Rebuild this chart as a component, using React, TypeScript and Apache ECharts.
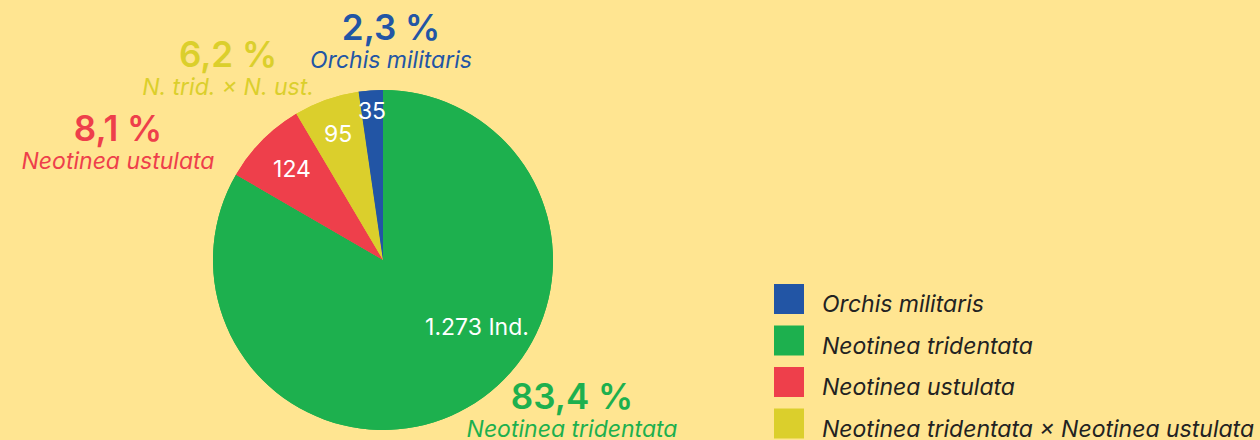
import React, { useEffect, useRef } from "react";
import * as echarts from "echarts";

// Data (clockwise from 12 o'clock)
const species = [
  "Neotinea tridentata",
  "Neotinea ustulata",
  "Neotinea tridentata × Neotinea ustulata",
  "Orchis militaris",
];
const shortNames = [
  "Neotinea tridentata",
  "Neotinea ustulata",
  "N. trid. × N. ust.",
  "Orchis militaris",
];
const counts = [1273, 124, 95, 35];
const colors = ["#1DB04E", "#EE3F4B", "#DBCF2C", "#2255A5"];
const legendOrder = [
  "Orchis militaris",
  "Neotinea tridentata",
  "Neotinea ustulata",
  "Neotinea tridentata × Neotinea ustulata",
];

// label placement (pixels)
const innerLabelPos = [
  [477, 327],
  [292, 169],
  [338, 134],
  [372, 111],
];
const outerLabelPos = [
  [572, 377],
  [118, 109],
  [228, 35],
  [391, 8],
];

const total = counts.reduce((a, b) => a + b, 0);
const fmtThousands = (v: number) =>
  String(v).replace(/\B(?=(\d{3})+(?!\d))/g, ".");
const fmtPct = (v: number) => ((v / total) * 100).toFixed(1).replace(".", ",") + " %";

const FONT = "Inter, 'Noto Sans', sans-serif";

export default function App() {
  const ref = useRef<HTMLDivElement>(null);
  useEffect(() => {
    if (!ref.current) return;
    const chart = echarts.init(ref.current, undefined, { renderer: "svg" });
    const data = species.map((name, i) => ({
      name,
      value: counts[i],
      itemStyle: { color: colors[i] },
    }));
    chart.setOption({
      animation: false,
      backgroundColor: "#FFE591",
      textStyle: { fontFamily: FONT },
      legend: {
        data: legendOrder,
        orient: "vertical",
        left: 774,
        top: 284,
        padding: 0,
        itemWidth: 30,
        itemHeight: 30,
        itemGap: 10,
        icon: "rect",
        selectedMode: false,
        formatter: (name: string) => `{t|${name}}`,
        textStyle: {
          fontFamily: FONT,
          fontSize: 23,
          fontStyle: "italic",
          color: "#222222",
          rich: {
            t: {
              fontFamily: FONT,
              fontSize: 23,
              fontStyle: "italic",
              color: "#222222",
              padding: [10, 0, 0, 13],
            },
          },
        },
      },
      series: [
        {
          type: "pie",
          z: 1,
          center: [383, 260],
          radius: 170,
          startAngle: 90,
          clockwise: true,
          avoidLabelOverlap: false,
          silent: true,
          data,
          label: {
            show: true,
            position: "outside",
            formatter: (p: any) =>
              `{p|${fmtPct(p.value)}}\n{n|${shortNames[p.dataIndex]}}`,
            rich: {
              p: {
                fontFamily: FONT,
                fontSize: 35,
                fontWeight: 600,
                lineHeight: 38,
                align: "center",
              },
              n: {
                fontFamily: FONT,
                fontSize: 23,
                fontStyle: "italic",
                lineHeight: 28,
                align: "center",
              },
            },
            color: "inherit",
          },
          labelLine: { show: false },
          labelLayout: (params: any) => ({
            x: outerLabelPos[params.dataIndex][0],
            y: outerLabelPos[params.dataIndex][1],
            align: "center",
            verticalAlign: "top",
          }),
        },
        {
          type: "pie",
          z: 2,
          center: [383, 260],
          radius: 170,
          startAngle: 90,
          clockwise: true,
          avoidLabelOverlap: false,
          silent: true,
          data,
          label: {
            show: true,
            position: "inside",
            color: "#FFFFFF",
            fontFamily: FONT,
            fontSize: 23,
            formatter: (p: any) =>
              p.dataIndex === 0
                ? `${fmtThousands(p.value)} Ind.`
                : `${fmtThousands(p.value)}`,
          },
          labelLine: { show: false },
          labelLayout: (params: any) => ({
            x: innerLabelPos[params.dataIndex][0],
            y: innerLabelPos[params.dataIndex][1],
            align: "center",
            verticalAlign: "middle",
          }),
        },
      ],
    });
    return () => chart.dispose();
  }, []);
  return (
    <div
      ref={ref}
      style={{ position: "fixed", left: 0, top: 0, width: 1260, height: 440 }}
    />
  );
}
